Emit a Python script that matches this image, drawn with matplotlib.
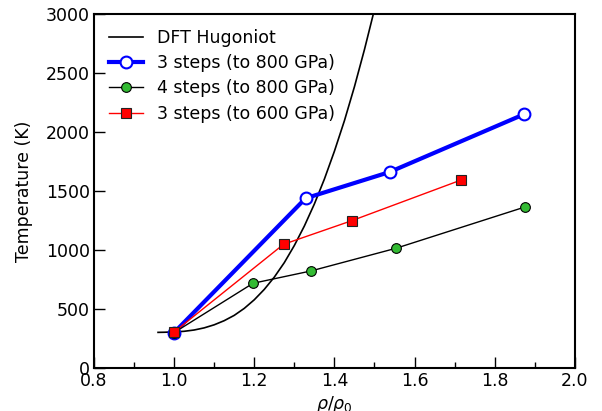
import matplotlib
matplotlib.use('Agg')
import matplotlib.pyplot as plt
from matplotlib.ticker import MultipleLocator

# DFT Hugoniot
hug_rho = [0.96, 0.975, 1.00, 1.025, 1.05, 1.075, 1.10, 1.125, 1.15, 1.175,
           1.20, 1.225, 1.25, 1.275, 1.30, 1.325, 1.35, 1.375, 1.40, 1.425,
           1.45, 1.475, 1.50]
hug_T = [302, 303, 306, 311, 322, 340, 366, 401, 446, 505,
         578, 666, 770, 893, 1038, 1203, 1390, 1601, 1837, 2096,
         2384, 2699, 3039]

# 3 steps (to 800 GPa)
s3_rho = [1.00, 1.328, 1.538, 1.873]
s3_T = [300, 1438, 1661, 2150]

# 4 steps (to 800 GPa)
s4_rho = [1.00, 1.197, 1.341, 1.553, 1.875]
s4_T = [300, 718, 822, 1014, 1364]

# 3 steps (to 600 GPa)
s3b_rho = [1.00, 1.273, 1.443, 1.716]
s3b_T = [305, 1048, 1248, 1593]

plt.rcParams['font.family'] = 'DejaVu Sans'
plt.rcParams['font.size'] = 12.5

fig = plt.figure(figsize=(6.02, 4.11), dpi=100)
ax = fig.add_axes([0.156, 0.1046, 0.799, 0.8614])

ax.plot(hug_rho, hug_T, color='black', lw=1.2, label='DFT Hugoniot')
ax.plot(s3_rho, s3_T, color='blue', lw=3, marker='o', ms=8.5,
        mfc='white', mec='blue', mew=1.5, label='3 steps (to 800 GPa)')
ax.plot(s4_rho, s4_T, color='black', lw=1, marker='o', ms=7,
        mfc='#33bb33', mec='black', mew=0.8, label='4 steps (to 800 GPa)')
ax.plot(s3b_rho, s3b_T, color='red', lw=1, marker='s', ms=7,
        mfc='red', mec='#222222', mew=0.8, label='3 steps (to 600 GPa)')

ax.set_xlim(0.8, 2.0)
ax.set_ylim(0, 3000)
ax.xaxis.set_major_locator(MultipleLocator(0.2))
ax.xaxis.set_minor_locator(MultipleLocator(0.1))
ax.yaxis.set_major_locator(MultipleLocator(500))
ax.tick_params(which='both', direction='in', top=False, right=False)
ax.tick_params(which='major', length=8, width=1, pad=3)
ax.tick_params(which='minor', length=4, width=1)
for s in ax.spines.values():
    s.set_linewidth(1.5)

ax.set_xlabel(r'$\rho/\rho_0$', labelpad=3)
ax.set_ylabel('Temperature (K)', labelpad=9)

ax.legend(loc='upper left', frameon=False, handlelength=2.0,
          borderaxespad=0.45, labelspacing=0.42, handletextpad=0.8)

fig.savefig('out.png', dpi=100)
